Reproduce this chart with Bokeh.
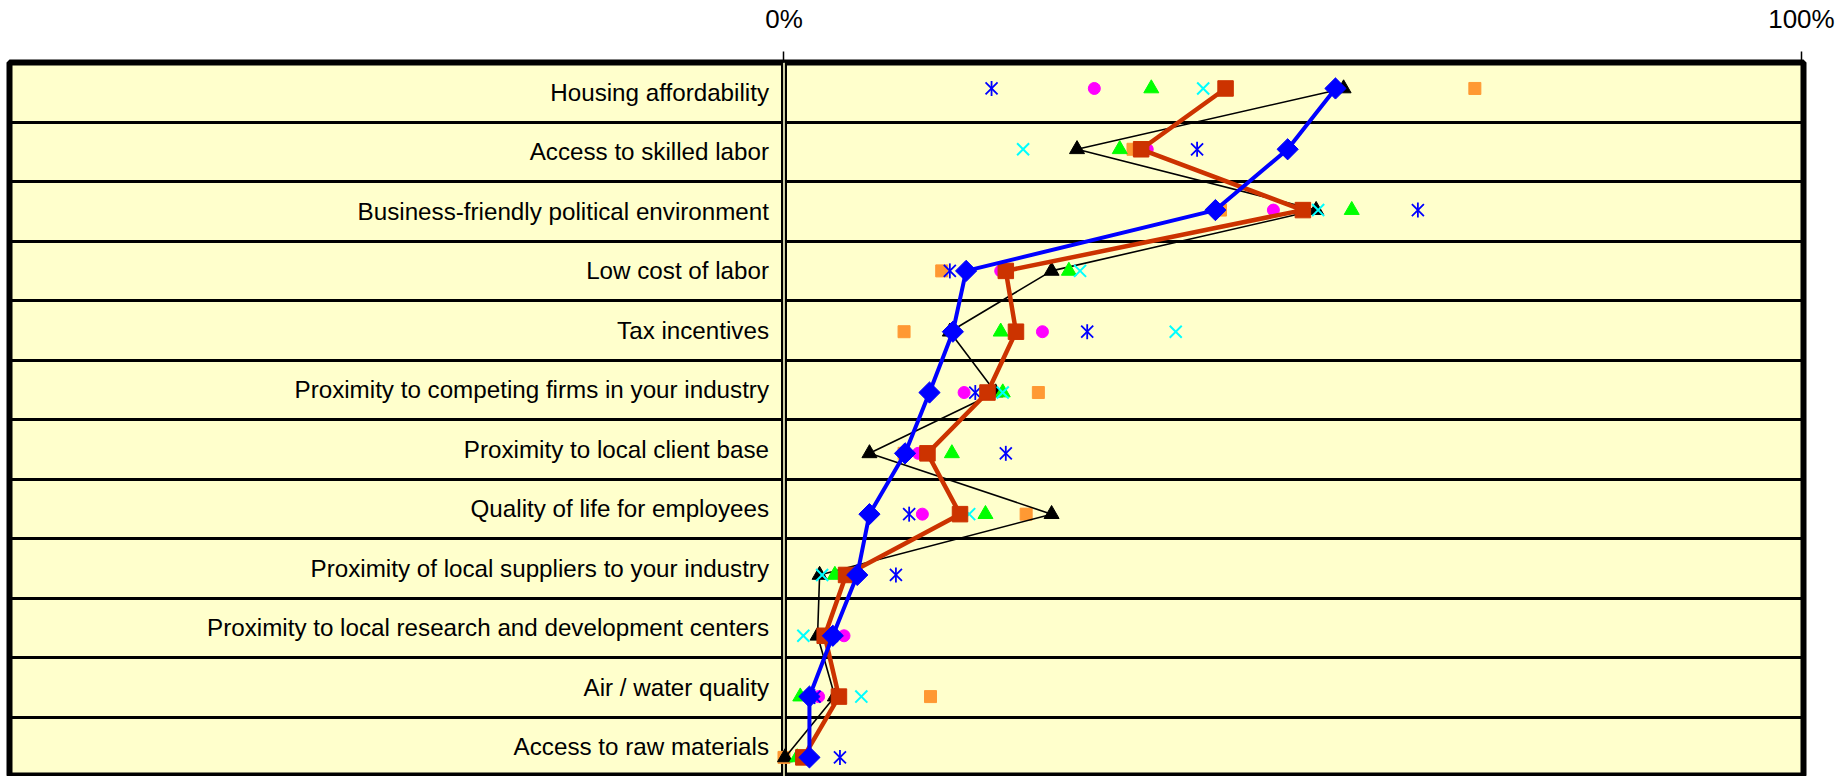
import math
from bokeh.plotting import figure
from bokeh.models import Range1d, LinearAxis, FixedTicker, NumeralTickFormatter, Grid, Span
from bokeh.core.properties import value
from bokeh.embed import file_html
from bokeh.resources import INLINE

categories = [
    "Housing affordability",
    "Access to skilled labor",
    "Business-friendly political environment",
    "Low cost of labor",
    "Tax incentives",
    "Proximity to competing firms in your industry",
    "Proximity to local client base",
    "Quality of life for employees",
    "Proximity of local suppliers to your industry",
    "Proximity to local research and development centers",
    "Air / water quality",
    "Access to raw materials",
]

# shares (0..1)
blue_diamond = [0.542, 0.495, 0.424, 0.179, 0.166, 0.143, 0.119, 0.084, 0.072, 0.048, 0.025, 0.025]
red_square = [0.434, 0.351, 0.510, 0.218, 0.228, 0.200, 0.141, 0.173, 0.061, 0.040, 0.054, 0.019]
black_triangle = [0.550, 0.288, 0.523, 0.263, 0.163, 0.208, 0.084, 0.263, 0.035, 0.033, 0.050, 0.001]
blue_asterisk = [0.204, 0.406, 0.623, 0.163, 0.298, 0.188, 0.218, 0.123, 0.110, 0.047, 0.030, 0.055]
magenta_circle = [0.305, 0.357, 0.481, 0.213, 0.254, 0.177, 0.132, 0.136, 0.066, 0.059, 0.034, 0.022]
green_triangle = [0.361, 0.330, 0.558, 0.280, 0.213, 0.215, 0.165, 0.198, 0.050, 0.042, 0.016, 0.013]
cyan_x = [0.412, 0.235, 0.525, 0.291, 0.385, 0.215, 0.140, 0.182, 0.0375, 0.019, 0.076, 0.022]
orange_square = [0.679, 0.343, 0.429, 0.155, 0.118, 0.250, 0.118, 0.238, 0.064, 0.046, 0.144, 0.000]

n = len(categories)
idx = list(range(n))
row_centers = [i + 0.5 for i in idx]

BG = "#FFFFCC"
p = figure(width=1839, height=776, output_backend="svg", toolbar_location=None,
           x_range=Range1d(-0.7612, 1.002), y_range=Range1d(n, 0),
           x_axis_location=None, y_axis_location=None,
           min_border_left=9, min_border_right=36, min_border_top=61, min_border_bottom=0,
           background_fill_color=BG, border_fill_color="white",
           outline_line_color="black", outline_line_width=6)
p.extra_y_ranges = {"pts": Range1d(start=(n - 1) + 0.314, end=-0.427)}
p.xgrid.visible = False
p.ygrid.visible = False

ax = LinearAxis(ticker=FixedTicker(ticks=[0, 1]), formatter=NumeralTickFormatter(format="0%"),
                axis_line_color=None, major_tick_in=0, major_tick_out=11,
                major_tick_line_width=1.5, major_tick_line_color="black",
                minor_tick_line_color=None, major_label_standoff=18,
                major_label_text_font="Liberation Sans", major_label_text_font_size="26px",
                major_label_text_color="black")
p.add_layout(ax, "above")

p.add_layout(Grid(dimension=1, ticker=FixedTicker(ticks=list(range(1, n))),
                  grid_line_color="black", grid_line_width=3))
p.add_layout(Span(location=0, dimension="height", line_color="black", line_width=6, level="underlay"))
p.add_layout(Span(location=0, dimension="height", line_color=BG, line_width=1.6, level="underlay"))

p.text(x=[0] * n, y=row_centers, text=categories, text_align="right", text_baseline="middle",
       x_offset=-15, text_font=value("Liberation Sans"), text_font_size="24.2px", text_color="black")

Y = dict(y_range_name="pts")
p.scatter(orange_square, idx, marker="square", size=12, fill_color="#FF9933", line_color="#FF9933", **Y)
p.line(black_triangle, idx, line_color="black", line_width=1.6, **Y)
p.scatter(black_triangle, idx, marker="triangle", size=15, fill_color="black", line_color="black", **Y)
p.scatter(magenta_circle, idx, marker="circle", size=12, fill_color="#FF00FF", line_color="#FF00FF", **Y)
p.scatter(green_triangle, idx, marker="triangle", size=15, fill_color="#00FF00", line_color="#00FF00", **Y)
p.scatter(cyan_x, idx, marker="x", size=17, line_color="#00FFFF", line_width=2, **Y)
# Excel-style star: an X with a vertical bar
p.scatter(blue_asterisk, idx, marker="x", size=17, line_color="#0000FF", line_width=1.8, **Y)
p.scatter(blue_asterisk, idx, marker="dash", angle=math.pi / 2, size=15, line_color="#0000FF",
          line_width=1.8, **Y)
p.line(red_square, idx, line_color="#CC3300", line_width=4.5, **Y)
p.scatter(red_square, idx, marker="square", size=15.5, fill_color="#CC3300", line_color="#CC3300", **Y)
p.line(blue_diamond, idx, line_color="#0000FF", line_width=4, **Y)
p.scatter(blue_diamond, idx, marker="square", angle=math.pi / 4, size=15,
          fill_color="#0000FF", line_color="#0000FF", **Y)

open("out.html", "w").write(file_html(p, INLINE))
